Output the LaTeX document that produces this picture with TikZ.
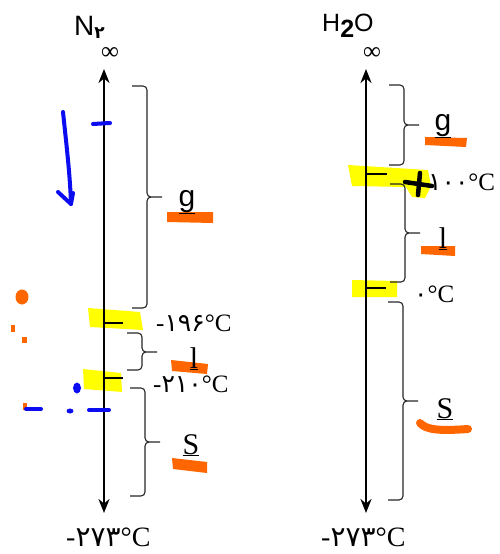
\documentclass[tikz,border=0pt]{standalone}
\usepackage{fontspec}
\setmainfont{Liberation Serif}
\setsansfont{Liberation Sans}
\newfontfamily\fadig{DejaVu Sans}
\usetikzlibrary{arrows.meta,positioning}
\definecolor{hlYellow} {RGB}{255,255,0}
\definecolor{inkBlue}  {RGB}{12,12,240}
\definecolor{inkOrange}{RGB}{255,102,0}

\begin{document}
\begin{tikzpicture}[x=1pt,y=-1pt,
          axis/.style={line width=2.6pt,
                       {Stealth[length=14pt,width=11pt]}-{Stealth[length=14pt,width=11pt]}},
          tick/.style={line width=1.1pt},
          brc/.style={line width=1.1pt,black!85,rounded corners=4pt},
          temp/.style={anchor=base west,inner sep=0pt,font=\fontsize{25}{26}\selectfont},
          phase/.style={anchor=base,inner sep=0pt,font=\fontsize{30}{30}\selectfont},
          hilite/.style={fill=hlYellow,draw=none},
          orng/.style={fill=inkOrange,draw=none},
          pen/.style={inkBlue,line width=4pt,line cap=round,line join=round}]
  \useasboundingbox (0,0) rectangle (499,554);
  % hand highlights
  \fill[hilite] (88,308) -- (140,312) -- (143,330) -- (90,327) -- cycle;
  \fill[hilite] (83,369) -- (121,373) -- (122,392) -- (84,389) -- cycle;
  \fill[hilite] (348,165) -- (428,170) -- (431,186) -- (425,198) -- (412,197)
                -- (406,187) -- (352,186) -- cycle;
  \fill[hilite] (352,280) -- (397,281) -- (397,297) -- (352,297) -- cycle;
  \fill[orng] (167,212) -- (213,212) -- (213,223) -- (167,222) -- cycle;
  \fill[orng] (171,360) -- (208,364) -- (207,374) -- (172,371) -- cycle;
  \fill[orng] (172,458) -- (207,462) -- (207,473) -- (173,469) -- cycle;
  \fill[orng] (425,137) -- (467,138) -- (466,147) -- (425,145) -- cycle;
  \fill[orng] (421,246) -- (455,246) -- (455,256) -- (421,254) -- cycle;
  \draw[inkOrange,line width=8pt,line cap=round]
    (420,423) .. controls (426,430) and (440,431) .. (468,429);
  \fill[inkOrange] (22,297) ellipse (6.5 and 7.5);
  \fill[inkOrange] (11,325) rectangle (15,332);
  \fill[inkOrange] (22,337) rectangle (27,343);
  \fill[inkOrange] (23,403) rectangle (27,410);

  % axes
  \coordinate (n2top) at (104,69);
  \coordinate (n2bot) at (104,513);
  \coordinate (h2otop) at (366,69);
  \coordinate (h2obot) at (366,513);
  \draw[axis] (n2bot) -- (n2top);
  \draw[axis] (h2obot) -- (h2otop);
  \node[inner sep=0pt] (n2inf)  at (110,53) {\fontsize{25}{25}\selectfont ∞};
  \node[inner sep=0pt] (h2oinf) at (372,53) {\fontsize{25}{25}\selectfont ∞};
  \node[anchor=base west,inner sep=0pt,font=\sffamily\fontsize{28}{30}\selectfont] (n2)
    at (74,35) {N\raisebox{-3pt}{\fontsize{17}{18}\fadig\bfseries ۲}};
  \node[anchor=base west,inner sep=0pt,font=\sffamily\fontsize{25}{30}\selectfont] (h2o)
    at (322,31) {H\raisebox{-6pt}{\bfseries 2}O};

  % ticks
  \draw[tick] (104,323) -- (123,323);
  \draw[tick] (104,378) -- (123,378);
  \draw[tick] (366,174) -- (387,174);
  \draw[tick] (366,288) -- (386,288);

  % braces
  \foreach \l/\t/\m/\b in {132/86/197/308, 127/333/352/370, 130/388/442/496,
                           389/85/125/165, 390/184/233/282, 388/302/401/500}
    \draw[brc] (\l,\t) -- (\l+15,\t) -- (\l+15,\m) -- (\l+30,\m)
               (\l+30,\m) -- (\l+15,\m) -- (\l+15,\b) -- (\l,\b);

  % phases
  \node[phase,font=\sffamily\fontsize{30}{30}\selectfont] (gL) at (187,206) {\underline{g}};
  \node[phase] (lL) at (194,368) {\underline{l}};
  \node[phase] (sL) at (191,454) {\underline{S}};
  \node[phase,font=\sffamily\fontsize{30}{30}\selectfont] (gR) at (443,130) {\underline{g}};
  \node[phase] (lR) at (443,248) {\underline{l}};
  \node[phase] (sR) at (445,418) {\underline{S}};

  % temperatures
  \node[temp] (t196) at (156,331) {-{\fadig ۱۹۶}°C};
  \node[temp] (t210) at (153,392) {-{\fadig ۲۱۰}°C};
  \node[temp] (t100) at (428,190) {{\fadig ۱۰۰}°C};
  \node[temp] (t0)   at (414,302) {{\fadig ۰}°C};
  \node[temp,font=\fontsize{28}{30}\selectfont] (t273L) at (66,546) {-{\fadig ۲۷۳}°C};
  \node[temp,font=\fontsize{28}{30}\selectfont] (t273R) at (321,546) {-{\fadig ۲۷۳}°C};

  % hand strokes
  \draw[pen] (63,112) .. controls (67,150) and (70,175) .. (71,204);
  \draw[pen] (58,192) -- (71,204) -- (73,193);
  \draw[pen] (93,124) -- (110,123);
  \draw[pen] (26,409) -- (41,409);
  \draw[pen] (89,410) -- (109,410);
  \fill[inkBlue] (70,411) ellipse (3.5 and 2.5);
  \fill[inkBlue] (77,388) ellipse (4 and 5.5);
  \draw[line width=4.5pt,line cap=round] (405,182) -- (432,186) (420,173) -- (418,195);
\end{tikzpicture}
\end{document}
